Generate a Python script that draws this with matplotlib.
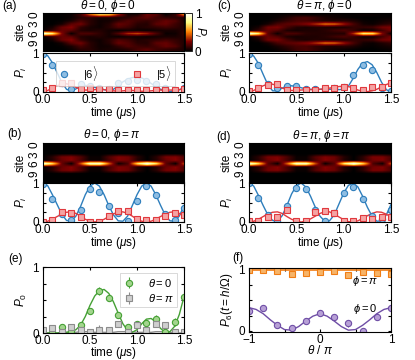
import numpy as np
import matplotlib
matplotlib.use("Agg")
import matplotlib.pyplot as plt

# ---- data ----
t_pts = [0.0, 0.1, 0.2, 0.3, 0.4, 0.5, 0.6, 0.7, 0.8, 0.9, 1.0, 1.1, 1.2, 1.3, 1.4, 1.5]
t_fit = [0.0, 0.05, 0.1, 0.15, 0.2, 0.25, 0.3, 0.35, 0.4, 0.45, 0.5, 0.55, 0.6, 0.65, 0.7, 0.75,
         0.8, 0.85, 0.9, 0.95, 1.0, 1.05, 1.1, 1.15, 1.2, 1.25, 1.3, 1.35, 1.4, 1.45, 1.5]

# (a) theta=0, phi=0
a_p6 = [0.97, 0.68, 0.22, 0.08, 0.21, 0.15, 0.11, 0.07, 0.24, 0.28, 0.3, 0.28, 0.21, 0.1, 0.06, 0.1]
a_p5 = [0.05, 0.11, 0.22, 0.22, 0.07, 0.1, 0.07, 0.08, 0.05, 0.05, 0.06, 0.05, 0.06, 0.05, 0.05, 0.08]
a_f6 = [1.0, 0.93, 0.75, 0.5, 0.25, 0.07, 0.02, 0.08, 0.15, 0.17, 0.15, 0.12, 0.09, 0.06, 0.04, 0.07,
        0.16, 0.26, 0.33, 0.37, 0.38, 0.36, 0.3, 0.22, 0.14, 0.07, 0.02, 0.01, 0.03, 0.06, 0.1]
a_f5 = [0.0, 0.04, 0.1, 0.16, 0.2, 0.21, 0.18, 0.12, 0.07, 0.05, 0.05, 0.06, 0.07, 0.06, 0.04, 0.03,
        0.02, 0.03, 0.04, 0.04, 0.03, 0.02, 0.02, 0.03, 0.04, 0.05, 0.05, 0.05, 0.05, 0.06, 0.08]

# (c) theta=pi, phi=0
c_p6 = [0.97, 0.7, 0.2, 0.11, 0.15, 0.15, 0.08, 0.07, 0.07, 0.1, 0.12, 0.43, 0.7, 0.57, 0.09, 0.02]
c_p5 = [0.03, 0.1, 0.18, 0.2, 0.05, 0.05, 0.06, 0.05, 0.1, 0.1, 0.14, 0.09, 0.05, 0.13, 0.12, 0.23]
c_f6 = [1.0, 0.92, 0.73, 0.45, 0.18, 0.03, 0.03, 0.1, 0.15, 0.16, 0.14, 0.11, 0.08, 0.07, 0.07, 0.07,
        0.07, 0.07, 0.07, 0.06, 0.07, 0.15, 0.35, 0.58, 0.74, 0.78, 0.7, 0.5, 0.25, 0.06, 0.0]
c_f5 = [0.0, 0.04, 0.1, 0.16, 0.2, 0.2, 0.16, 0.1, 0.06, 0.04, 0.04, 0.05, 0.06, 0.06, 0.06, 0.07,
        0.08, 0.1, 0.12, 0.14, 0.15, 0.14, 0.1, 0.05, 0.02, 0.01, 0.03, 0.07, 0.13, 0.19, 0.24]

# (b) theta=0, phi=pi
b_p6 = [0.98, 0.6, 0.2, 0.05, 0.32, 0.84, 0.78, 0.42, 0.22, 0.02, 0.55, 0.92, 0.7, 0.2, 0.05, 0.35]
b_p5 = [0.0, 0.05, 0.25, 0.23, 0.12, 0.0, 0.0, 0.16, 0.29, 0.29, 0.08, 0.05, 0.06, 0.16, 0.23, 0.18]
b_f6 = [1.0, 0.93, 0.7, 0.45, 0.2, 0.04, 0.02, 0.15, 0.4, 0.7, 0.92, 1.0, 0.92, 0.7, 0.42, 0.18,
        0.03, 0.02, 0.15, 0.42, 0.7, 0.92, 1.0, 0.92, 0.7, 0.43, 0.18, 0.03, 0.02, 0.15, 0.42]
b_f5 = [0.0, 0.02, 0.07, 0.14, 0.2, 0.25, 0.26, 0.22, 0.15, 0.07, 0.02, 0.0, 0.02, 0.07, 0.14, 0.21,
        0.25, 0.26, 0.22, 0.15, 0.07, 0.02, 0.0, 0.02, 0.07, 0.14, 0.2, 0.25, 0.26, 0.22, 0.15]

# (d) theta=pi, phi=pi
d_p6 = [1.0, 0.62, 0.18, 0.02, 0.42, 0.86, 0.84, 0.3, 0.03, 0.22, 0.75, 0.9, 0.6, 0.15, 0.08, 0.3]
d_p5 = [0.02, 0.03, 0.12, 0.12, 0.3, 0.02, 0.02, 0.25, 0.28, 0.23, 0.03, 0.03, 0.1, 0.07, 0.12, 0.13]
d_f6 = [1.0, 0.92, 0.68, 0.42, 0.18, 0.04, 0.02, 0.16, 0.42, 0.72, 0.93, 1.0, 0.9, 0.66, 0.38, 0.15,
        0.02, 0.03, 0.18, 0.46, 0.74, 0.94, 1.0, 0.9, 0.66, 0.38, 0.15, 0.02, 0.03, 0.18, 0.45]
d_f5 = [0.0, 0.02, 0.07, 0.14, 0.21, 0.25, 0.26, 0.22, 0.14, 0.07, 0.02, 0.0, 0.02, 0.08, 0.15, 0.22,
        0.26, 0.26, 0.21, 0.13, 0.06, 0.01, 0.0, 0.03, 0.09, 0.16, 0.22, 0.26, 0.25, 0.2, 0.13]

# (e) P_0 vs time
e_th0 = [0.0, 0.02, 0.09, 0.03, 0.12, 0.33, 0.63, 0.53, 0.27, 0.09, 0.13, 0.15, 0.21, 0.01, 0.17, 0.55]
e_th0_err = [0.02, 0.02, 0.03, 0.02, 0.04, 0.04, 0.06, 0.05, 0.05, 0.03, 0.04, 0.04, 0.06, 0.02, 0.06, 0.06]
e_thpi = [0.04, 0.08, 0.02, 0.09, 0.04, 0.02, 0.05, 0.05, 0.14, 0.02, 0.12, 0.04, 0.13, 0.12, 0.01, 0.01]
e_thpi_err = [0.02, 0.03, 0.02, 0.03, 0.02, 0.02, 0.07, 0.03, 0.04, 0.02, 0.04, 0.02, 0.04, 0.03, 0.02, 0.02]
e_f0 = [0.0, 0.0, 0.0, 0.0, 0.01, 0.01, 0.02, 0.05, 0.12, 0.25, 0.42, 0.56, 0.64, 0.66, 0.6, 0.47,
        0.3, 0.14, 0.04, 0.01, 0.05, 0.14, 0.21, 0.22, 0.17, 0.07, 0.01, 0.02, 0.1, 0.28, 0.55]
e_fpi = [0.0, 0.0, 0.0, 0.0, 0.01, 0.01, 0.01, 0.01, 0.02, 0.02, 0.02, 0.01, 0.01, 0.01, 0.01, 0.01,
         0.02, 0.02, 0.02, 0.02, 0.01, 0.01, 0.01, 0.01, 0.02, 0.02, 0.02, 0.01, 0.01, 0.0, 0.0]

# (f) P_6(t=h/Omega) vs theta
th_pts = [-1.0, -0.8, -0.6, -0.4, -0.2, 0.0, 0.2, 0.4, 0.6, 0.8, 1.0]
th_fit = [-1.0, -0.9, -0.8, -0.7, -0.6, -0.5, -0.4, -0.3, -0.2, -0.1, 0.0,
          0.1, 0.2, 0.3, 0.4, 0.5, 0.6, 0.7, 0.8, 0.9, 1.0]
f_phpi = [0.99, 1.0, 0.98, 0.93, 0.94, 0.96, 0.98, 0.91, 0.97, 0.95, 0.93]
f_phpi_err = [0.01, 0.01, 0.01, 0.01, 0.01, 0.01, 0.01, 0.01, 0.04, 0.01, 0.01]
f_ph0 = [0.33, 0.38, 0.09, 0.04, 0.16, 0.29, 0.22, 0.12, 0.0, 0.23, 0.38]
f_ph0_err = [0.04, 0.05, 0.03, 0.04, 0.03, 0.02, 0.03, 0.06, 0.03, 0.05, 0.03]
f_fit_pi = [1.0] * 21
f_fit_0 = [0.38, 0.35, 0.28, 0.18, 0.09, 0.02, 0.01, 0.07, 0.16, 0.24, 0.28,
           0.24, 0.16, 0.07, 0.01, 0.02, 0.09, 0.18, 0.28, 0.35, 0.38]

# heatmaps: sites 0..6 (sites 7..11 mirror 5..1), columns at t_pts
hm_a = [e_f0[::2],
        [0, 0, 0, 0.02, 0.08, 0.08, 0.04, 0.05, 0.05, 0.08, 0.14, 0.18, 0.12, 0.1, 0.08, 0.05],
        [0, 0, 0.01, 0.05, 0.14, 0.08, 0.03, 0.04, 0.1, 0.16, 0.12, 0.1, 0.14, 0.2, 0.16, 0.04],
        [0, 0, 0.04, 0.18, 0.22, 0.08, 0.03, 0.07, 0.2, 0.16, 0.08, 0.07, 0.18, 0.2, 0.12, 0.06],
        [0, 0.04, 0.2, 0.26, 0.1, 0.05, 0.03, 0.08, 0.16, 0.12, 0.06, 0.08, 0.1, 0.13, 0.1, 0.06],
        a_f5[::2], a_f6[::2]]
hm_c = [e_fpi[::2],
        [0, 0, 0, 0.02, 0.06, 0.12, 0.14, 0.1, 0.05, 0.03, 0.02, 0.01, 0.0, 0.0, 0.01, 0.02],
        [0, 0, 0.01, 0.05, 0.1, 0.14, 0.14, 0.1, 0.07, 0.06, 0.08, 0.06, 0.02, 0.01, 0.03, 0.05],
        [0, 0, 0.04, 0.14, 0.18, 0.2, 0.25, 0.34, 0.46, 0.44, 0.3, 0.14, 0.04, 0.02, 0.06, 0.1],
        [0, 0.04, 0.22, 0.24, 0.14, 0.07, 0.05, 0.07, 0.06, 0.05, 0.06, 0.1, 0.1, 0.12, 0.22, 0.24],
        c_f5[::2], c_f6[::2]]
hm_b = [[0] * 16, [0] * 16, [0] * 16, [0] * 16,
        [0, 0.08, 0.22, 0.25, 0.16, 0.02, 0.02, 0.16, 0.25, 0.22, 0.08, 0.0, 0.08, 0.23, 0.25, 0.15],
        b_f5[::2], b_f6[::2]]
hm_d = [[0] * 16, [0] * 16, [0] * 16, [0] * 16,
        [0, 0.08, 0.23, 0.25, 0.15, 0.02, 0.02, 0.17, 0.25, 0.21, 0.07, 0.0, 0.09, 0.24, 0.24, 0.14],
        d_f5[::2], d_f6[::2]]

# ---- styling ----
plt.rcParams["font.family"] = ["Liberation Sans", "DejaVu Sans"]
plt.rcParams["font.size"] = 8.5
plt.rcParams["mathtext.fontset"] = "custom"
plt.rcParams["mathtext.rm"] = "Liberation Sans"
plt.rcParams["mathtext.it"] = "Liberation Sans:italic"
plt.rcParams["axes.linewidth"] = 0.8
plt.rcParams["xtick.direction"] = "in"
plt.rcParams["ytick.direction"] = "in"
plt.rcParams["xtick.top"] = True
plt.rcParams["ytick.right"] = True
plt.rcParams["xtick.major.size"] = 2.5
plt.rcParams["ytick.major.size"] = 2.5
plt.rcParams["xtick.major.pad"] = 1.5
plt.rcParams["ytick.major.pad"] = 3

blue, lblue = "#2e7ebc", "#8ebde2"
red, lred = "#e0393e", "#f5a3a3"
green, lgreen = "#45a035", "#a3d58e"
gray, lgray = "#8c8c8c", "#cfcfcf"
orange, lorange = "#f07d14", "#f7b468"
purple, lpurple = "#6f4ea6", "#b7a0d6"

W, H = 415.0, 360.0
fig = plt.figure(figsize=(W / 100, H / 100), dpi=100)


def px_axes(l, t, r, b):
    return fig.add_axes([l / W, 1 - b / H, (r - l) / W, (b - t) / H])


def heat_panel(ax, rows):
    full = rows + rows[5:0:-1]
    im = ax.imshow(np.array(full, dtype=float), aspect="auto", cmap="afmhot", vmin=0, vmax=1,
                   extent=[-0.05, 1.55, 11.5, -0.5], interpolation="bilinear")
    ax.set_xlim(0, 1.5)
    ax.set_ylim(11.5, -0.5)
    ax.set_xticks([])
    ax.set_yticks([0, 3, 6, 9])
    ax.set_yticklabels(["0", "3", "6", "9"], rotation=90, va="center")
    ax.tick_params(axis="y", right=False, length=0, pad=2)
    ax.set_ylabel("site", labelpad=1)
    return im


def line_panel(ax, p6, p5, f6, f5):
    ax.plot(t_fit, f6, color=blue, lw=1)
    ax.plot(t_fit, f5, color=red, lw=1)
    ax.plot(t_pts, p6, "o", mfc=lblue, mec=blue, ms=4.5, mew=0.8, label=r"$|6\rangle$")
    ax.plot(t_pts, p5, "s", mfc=lred, mec=red, ms=4, mew=0.8, label=r"$|5\rangle$")
    ax.set_xlim(0, 1.5)
    ax.set_ylim(0, 1)
    ax.set_xticks([0, 0.5, 1.0, 1.5])
    ax.set_xticklabels(["0.0", "0.5", "1.0", "1.5"])
    ax.set_yticks([0, 0.25, 0.5, 0.75, 1])
    ax.set_yticklabels(["0", "", "", "", "1"])
    ax.set_ylabel("$P_i$", labelpad=2)
    ax.set_xlabel(r"time ($\mu$s)", labelpad=-1)


# (a)
hm = px_axes(43, 13, 184, 51)
im = heat_panel(hm, hm_a)
cax = px_axes(185, 13, 192, 51)
cb = fig.colorbar(im, cax=cax, ticks=[0, 1])
cb.outline.set_linewidth(0.6)
cax.tick_params(length=0, pad=2)
cb.set_label("$P_i$", rotation=270, labelpad=4)
ax = px_axes(43, 53, 184, 92)
line_panel(ax, a_p6, a_p5, a_f6, a_f5)
leg = ax.legend(loc="upper right", bbox_to_anchor=(0.975, 0.95), ncol=2, fontsize=8,
                frameon=True, fancybox=False, edgecolor="#c8c8c8", borderpad=0.3,
                handletextpad=1.2, columnspacing=3.0, handlelength=1.0)
leg.get_frame().set_linewidth(0.6)

# (c)
hm = px_axes(249, 13, 391, 51)
heat_panel(hm, hm_c)
ax = px_axes(249, 53, 391, 92)
line_panel(ax, c_p6, c_p5, c_f6, c_f5)

# (b)
hm = px_axes(43, 143, 184, 182)
heat_panel(hm, hm_b)
ax = px_axes(43, 183, 184, 222)
line_panel(ax, b_p6, b_p5, b_f6, b_f5)

# (d)
hm = px_axes(249, 143, 391, 182)
heat_panel(hm, hm_d)
ax = px_axes(249, 183, 391, 222)
line_panel(ax, d_p6, d_p5, d_f6, d_f5)

# (e)
ax = px_axes(43, 267, 184, 333)
ax.plot(t_fit, e_fpi, color=gray, lw=1)
ax.plot(t_fit, e_f0, color=green, lw=1)
ax.errorbar(t_pts, e_th0, yerr=e_th0_err, fmt="o", mfc=lgreen, mec=green, ecolor=green,
            ms=4.5, mew=0.8, elinewidth=0.8, capsize=0, label=r"$\theta = 0$")
ax.errorbar(t_pts, e_thpi, yerr=e_thpi_err, fmt="s", mfc=lgray, mec=gray, ecolor=gray,
            ms=4, mew=0.8, elinewidth=0.8, capsize=0, label=r"$\theta = \pi$")
ax.set_xlim(0, 1.5)
ax.set_ylim(0, 1)
ax.set_xticks([0, 0.5, 1.0, 1.5])
ax.set_xticklabels(["0.0", "0.5", "1.0", "1.5"])
ax.set_yticks([0, 0.25, 0.5, 0.75, 1])
ax.set_yticklabels(["0", "", "", "", "1"])
ax.set_ylabel("$P_0$", labelpad=2)
ax.set_xlabel(r"time ($\mu$s)", labelpad=-1.5)
leg = ax.legend(loc="upper right", bbox_to_anchor=(0.99, 0.99), fontsize=8, frameon=True,
                fancybox=False, edgecolor="#c8c8c8", borderpad=0.3, handletextpad=1.2,
                handlelength=1.0, labelspacing=0.3)
leg.get_frame().set_linewidth(0.6)

# (f)
ax = px_axes(249, 268, 391, 332)
ax.plot(th_fit, f_fit_pi, color=orange, lw=1.2)
ax.plot(th_fit, f_fit_0, color=purple, lw=1)
ax.errorbar(th_pts, f_phpi, yerr=f_phpi_err, fmt="s", mfc=lorange, mec=orange, ecolor=orange,
            ms=4, mew=0.8, elinewidth=0.8, capsize=0)
ax.errorbar(th_pts, f_ph0, yerr=f_ph0_err, fmt="o", mfc=lpurple, mec=purple, ecolor=purple,
            ms=4.5, mew=0.8, elinewidth=0.8, capsize=0)
ax.set_xlim(-1, 1)
ax.set_ylim(-0.02, 1.03)
ax.set_xticks([-1, -0.5, 0, 0.5, 1])
ax.set_xticklabels(["\u22121", "", "0", "", "1"])
ax.set_yticks([0, 0.25, 0.5, 0.75, 1])
ax.set_yticklabels(["0", "", "", "", "1"])
ax.set_ylabel(r"$P_6(t = h/\Omega)$", labelpad=2)
ax.set_xlabel(r"$\theta\ /\ \pi$", labelpad=-1.5)
ax.text(0.63, 0.81, r"$\phi = \pi$", ha="center", va="center", fontsize=8)
ax.text(0.63, 0.36, r"$\phi = 0$", ha="center", va="center", fontsize=8)

# titles and panel letters
fig.text(108 / W, 1 - 6.5 / H, r"$\theta = 0$, $\phi = 0$", ha="center", va="center")
fig.text(324 / W, 1 - 6.5 / H, r"$\theta = \pi$, $\phi = 0$", ha="center", va="center")
fig.text(112 / W, 1 - 135 / H, r"$\theta = 0$, $\phi = \pi$", ha="center", va="center")
fig.text(321 / W, 1 - 135.5 / H, r"$\theta = \pi$, $\phi = \pi$", ha="center", va="center")
for lab, x, y in [("(a)", 2, 6), ("(c)", 217, 6), ("(b)", 7, 134), ("(d)", 216, 137),
                  ("(e)", 8, 259), ("(f)", 232, 258)]:
    fig.text(x / W, 1 - y / H, lab, ha="left", va="center", fontsize=8.5)

fig.savefig("out.png", dpi=100)
